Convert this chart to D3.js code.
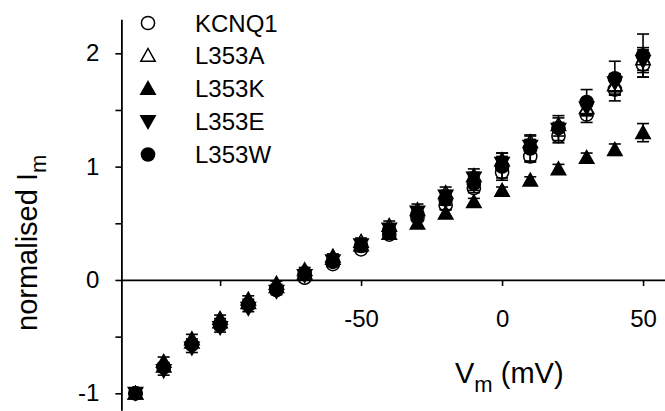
<!DOCTYPE html>
<html>
<head>
<meta charset="utf-8">
<script src="https://cdn.jsdelivr.net/npm/d3@7"></script>
<style>
  html, body { margin: 0; padding: 0; background: #fff; }
  svg { display: block; font-family: Arial, "Liberation Sans", sans-serif; }
</style>
</head>
<body>
<svg id="chart" width="665" height="411"></svg>
<script>
// Membrane voltage steps (mV)
const voltages = [-130, -120, -110, -100, -90, -80, -70, -60, -50, -40, -30, -20, -10, 0, 10, 20, 30, 40, 50];

// Normalised current per construct
const kcnq1 = [-1.00, -0.77, -0.57, -0.39, -0.22, -0.08, 0.02, 0.14, 0.27, 0.40, 0.55, 0.66, 0.81, 0.95, 1.09, 1.27, 1.46, 1.68, 1.90];
const l353a = [-1.00, -0.76, -0.55, -0.37, -0.20, -0.06, 0.06, 0.19, 0.34, 0.48, 0.62, 0.77, 0.92, 1.06, 1.22, 1.37, 1.52, 1.72, 1.95];
const l353k = [-1.00, -0.72, -0.52, -0.34, -0.17, -0.03, 0.09, 0.21, 0.31, 0.41, 0.50, 0.59, 0.69, 0.79, 0.88, 0.98, 1.08, 1.15, 1.30];
const l353e = [-1.00, -0.80, -0.60, -0.42, -0.25, -0.10, 0.04, 0.17, 0.31, 0.45, 0.60, 0.74, 0.90, 1.03, 1.18, 1.33, 1.52, 1.74, 1.93];
const l353w = [-1.00, -0.77, -0.57, -0.40, -0.22, -0.09, 0.06, 0.16, 0.30, 0.44, 0.58, 0.71, 0.85, 1.00, 1.16, 1.34, 1.57, 1.78, 1.98];

// Standard errors
const kcnq1Err = [0, 0.03, 0.03, 0.03, 0.03, 0.02, 0.02, 0.02, 0.02, 0.03, 0.03, 0.04, 0.04, 0.05, 0.05, 0.06, 0.07, 0.10, 0.11];
const l353aErr = [0, 0.03, 0.03, 0.03, 0.03, 0.02, 0.02, 0.03, 0.03, 0.04, 0.05, 0.05, 0.06, 0.06, 0.06, 0.06, 0.07, 0.08, 0.10];
const l353kErr = [0, 0.04, 0.04, 0.03, 0.03, 0.02, 0.02, 0.02, 0.02, 0.03, 0.03, 0.03, 0.03, 0.03, 0.03, 0.04, 0.04, 0.05, 0.08];
const l353eErr = [0, 0.04, 0.04, 0.04, 0.03, 0.03, 0.02, 0.03, 0.03, 0.04, 0.04, 0.05, 0.05, 0.06, 0.06, 0.06, 0.07, 0.08, 0.10];
const l353wErr = [0, 0.03, 0.03, 0.03, 0.03, 0.02, 0.02, 0.03, 0.03, 0.04, 0.05, 0.05, 0.06, 0.12, 0.11, 0.11, 0.11, 0.15, 0.19];

const seriesNames = ["KCNQ1", "L353A", "L353K", "L353E", "L353W"];
const seriesShapes = ["circle", "triangleUp", "triangleUp", "triangleDown", "circle"];
const seriesFilled = [false, false, true, true, true];

const xTicks = [-100, -50, 0, 50];
const xTickLabels = ["", "-50", "0", "50"];
const yTicks = [-1, -0.5, 0, 0.5, 1, 1.5, 2];
const yTickLabels = ["-1", "", "0", "", "1", "", "2"];

const seriesValues = [kcnq1, l353a, l353k, l353e, l353w];
const seriesErrors = [kcnq1Err, l353aErr, l353kErr, l353eErr, l353wErr];

const svg = d3.select("#chart");

const x = d3.scaleLinear().domain([-135, 58]).range([121.4, 665.6]);
const y = d3.scaleLinear().domain([-1.15, 2.3]).range([410.3, 19.3]);

// marker path generator centred on (0,0)
function markerPath(shape) {
  const r = 6.6, w = 7.2, h = 6.4;
  if (shape === "circle") {
    return `M${r},0A${r},${r} 0 1,1 ${-r},0A${r},${r} 0 1,1 ${r},0Z`;
  }
  if (shape === "triangleUp") {
    return `M0,${-h - 0.6}L${w},${h - 0.6}L${-w},${h - 0.6}Z`;
  }
  return `M0,${h + 0.6}L${w},${-h + 0.6}L${-w},${-h + 0.6}Z`;
}

// y axis
const yAxis = d3.axisLeft(y)
  .tickValues(yTicks)
  .tickFormat((d, i) => yTickLabels[i])
  .tickSize(6)
  .tickSizeOuter(0)
  .tickPadding(16);

const gy = svg.append("g")
  .attr("transform", `translate(${x(-135)},0)`)
  .call(yAxis);

// x axis through zero current
const xAxis = d3.axisBottom(x)
  .tickValues(xTicks)
  .tickFormat((d, i) => xTickLabels[i])
  .tickSize(6)
  .tickSizeOuter(0)
  .tickPadding(24);

const gx = svg.append("g")
  .attr("transform", `translate(0,${y(0)})`)
  .call(xAxis);

[gx, gy].forEach(g => {
  g.select(".domain").attr("stroke", "#000").attr("stroke-width", 1.8);
  g.selectAll(".tick line").attr("stroke", "#000").attr("stroke-width", 1.6);
  g.selectAll(".tick text")
    .attr("fill", "#000")
    .style("font-size", "24px")
    .style("font-family", "Arial, 'Liberation Sans', sans-serif");
});

// data: error bars and markers, one layer per construct
const capHalf = 6;
seriesNames.forEach((name, si) => {
  const pts = voltages.map((v, i) => ({ v, m: seriesValues[si][i], e: seriesErrors[si][i] }));
  const g = svg.append("g").attr("class", "series");

  const eb = g.selectAll("g.err").data(pts.filter(p => p.e > 0)).join("g").attr("class", "err")
    .attr("stroke", "#000").attr("stroke-width", 1.6);
  eb.append("line")
    .attr("x1", p => x(p.v)).attr("x2", p => x(p.v))
    .attr("y1", p => y(p.m - p.e)).attr("y2", p => y(p.m + p.e));
  eb.append("line")
    .attr("x1", p => x(p.v) - capHalf).attr("x2", p => x(p.v) + capHalf)
    .attr("y1", p => y(p.m + p.e)).attr("y2", p => y(p.m + p.e));
  eb.append("line")
    .attr("x1", p => x(p.v) - capHalf).attr("x2", p => x(p.v) + capHalf)
    .attr("y1", p => y(p.m - p.e)).attr("y2", p => y(p.m - p.e));

  g.selectAll("path.pt").data(pts).join("path").attr("class", "pt")
    .attr("transform", p => `translate(${x(p.v)},${y(p.m)})`)
    .attr("d", markerPath(seriesShapes[si]))
    .attr("fill", seriesFilled[si] ? "#000" : "none")
    .attr("stroke", "#000")
    .attr("stroke-width", 1.5);
});

// legend
const legendRows = [23, 55.5, 88.5, 121.5, 154.5];
const legend = svg.append("g");
seriesNames.forEach((name, si) => {
  const row = legend.append("g").attr("transform", `translate(148,${legendRows[si]})`);
  row.append("path")
    .attr("d", markerPath(seriesShapes[si]))
    .attr("fill", seriesFilled[si] ? "#000" : "none")
    .attr("stroke", "#000")
    .attr("stroke-width", 1.5);
  row.append("text")
    .attr("x", 47)
    .attr("y", 8.7)
    .style("font-size", "24px")
    .attr("fill", "#000")
    .text(name);
});

// axis titles
const yTitle = svg.append("text")
  .attr("transform", "translate(37,331) rotate(-90)")
  .attr("text-anchor", "start")
  .style("font-size", "29px")
  .attr("fill", "#000");
yTitle.append("tspan").text("normalised I");
yTitle.append("tspan").attr("dy", 9).style("font-size", "22px").text("m");

const xTitle = svg.append("text")
  .attr("x", 455)
  .attr("y", 383)
  .attr("text-anchor", "start")
  .style("font-size", "29px")
  .attr("fill", "#000");
xTitle.append("tspan").text("V");
xTitle.append("tspan").attr("dy", 9).style("font-size", "22px").text("m");
xTitle.append("tspan").attr("dy", -9).text(" (mV)");
</script>
</body>
</html>
